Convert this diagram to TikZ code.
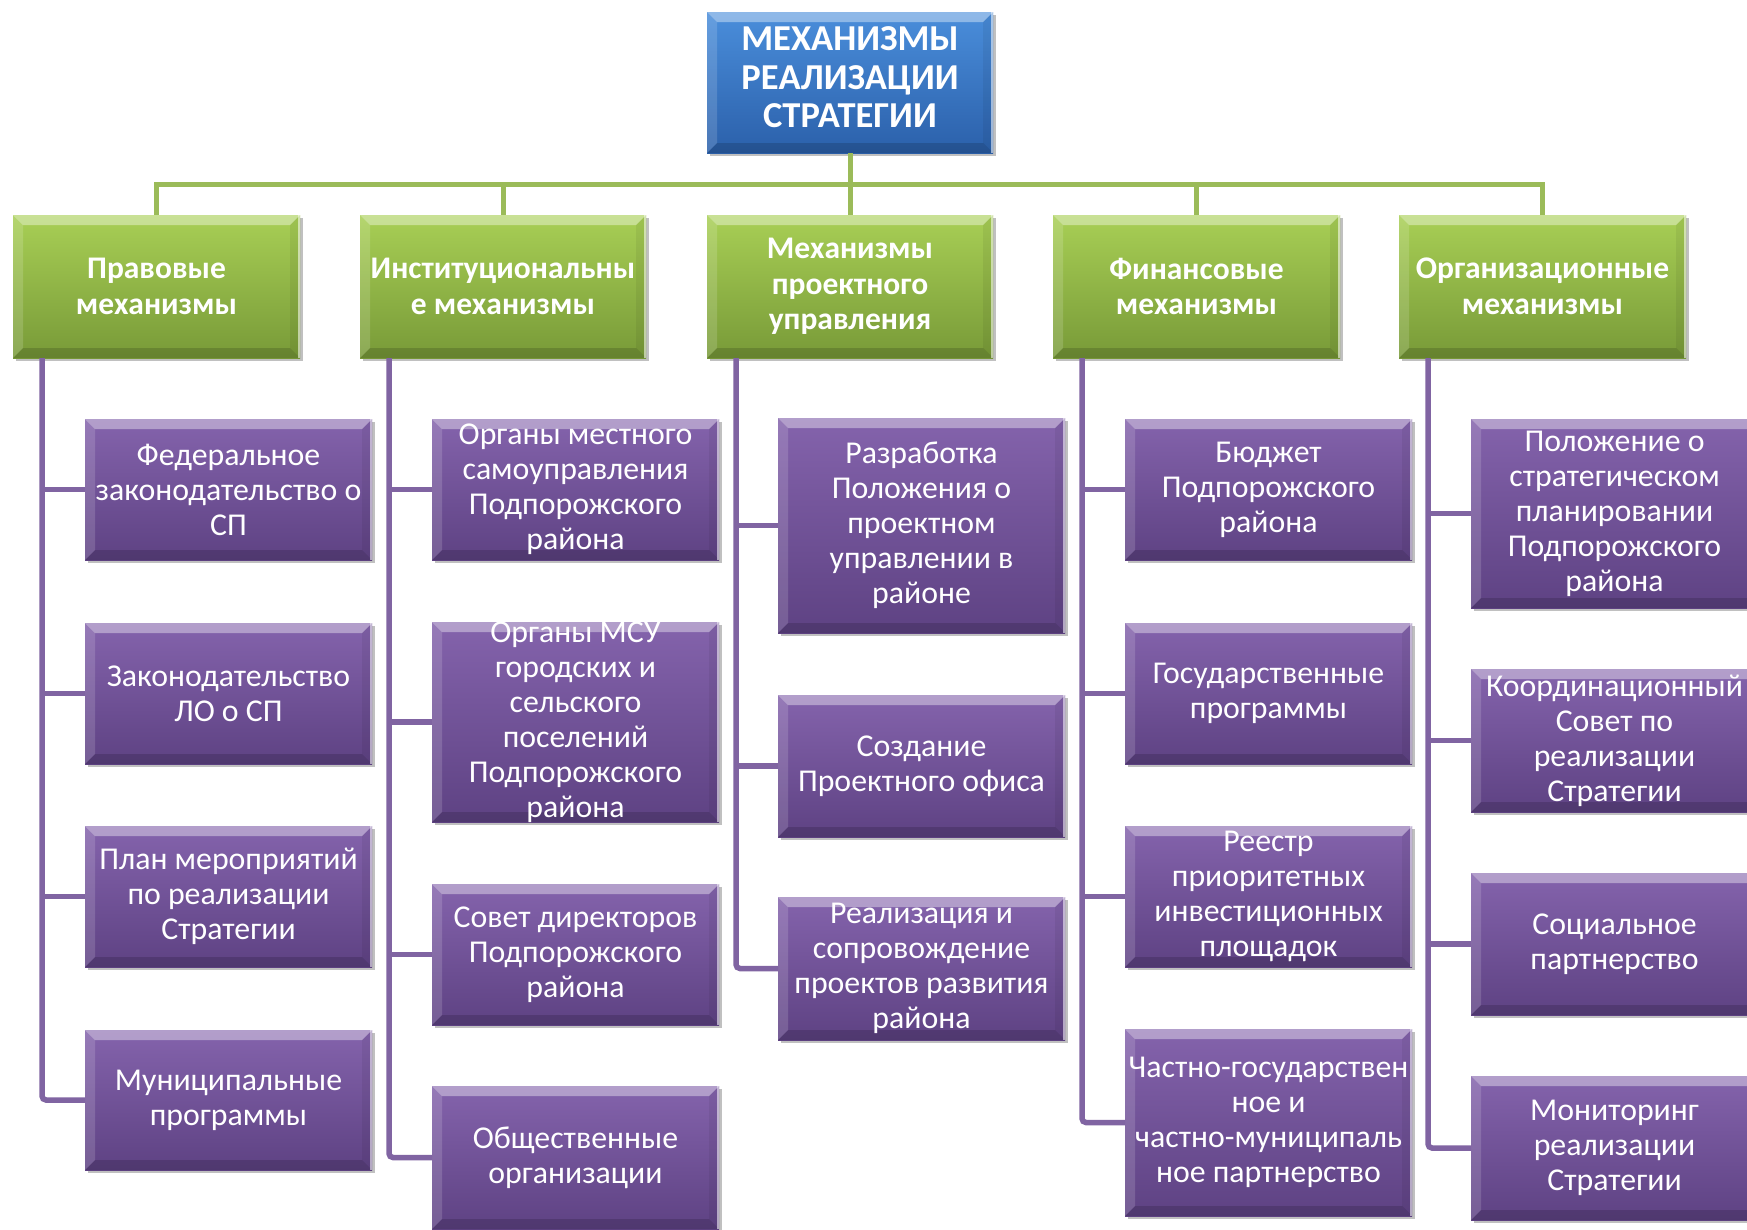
\documentclass[tikz,border=0pt]{standalone}
\usepackage{fontspec}
\setmainfont{Carlito}
\usetikzlibrary{shadows,calc}
\definecolor{bluetop}{HTML}{4A8EDB}
\definecolor{bluebot}{HTML}{2B60AA}
\definecolor{greentop}{HTML}{A8CF55}
\definecolor{greenbot}{HTML}{789A38}
\definecolor{purptop}{HTML}{8463AC}
\definecolor{purpbot}{HTML}{5E4283}
\definecolor{gline}{HTML}{9BBB59}
\definecolor{pline}{HTML}{8064A2}
\tikzset{
  basebox/.style={inner sep=0pt, outer sep=0pt, draw=none,
    drop shadow={shadow xshift=2.5pt, shadow yshift=-3pt, opacity=0.35, fill=black!70}},
  bluebox/.style={basebox, top color=bluetop, bottom color=bluebot},
  greenbox/.style={basebox, top color=greentop, bottom color=greenbot},
  purpbox/.style={basebox, top color=purptop, bottom color=purpbot},
  toptxt/.style={text=white, align=center, font=\fontsize{36.5}{38.5}\selectfont\bfseries},
  greentxt/.style={text=white, align=center, font=\fontsize{31.5}{35.5}\selectfont\bfseries},
  purptxt/.style={text=white, align=center, font=\fontsize{31.8}{35}\selectfont},
  gconn/.style={draw=gline, line width=5pt},
  pconn/.style={draw=pline, line width=5.5pt},
}
\newcommand\boxat[8]{% style, text style, name, x1, y1, x2, y2, text
  \node[#1, minimum width={(#6-#4)*1pt}, minimum height={(#7-#5)*1pt}] (#3) at ({(#4+#6)/2},{(#5+#7)/2}) {};
  \fill[white,opacity=.38] (#3.north west) -- (#3.north east) -- ([xshift=-10pt,yshift=-10pt]#3.north east) -- ([xshift=10pt,yshift=-10pt]#3.north west) -- cycle;
  \fill[white,opacity=.15] (#3.north west) -- ([xshift=10pt,yshift=-10pt]#3.north west) -- ([xshift=10pt,yshift=10pt]#3.south west) -- (#3.south west) -- cycle;
  \fill[black,opacity=.15] (#3.south west) -- (#3.south east) -- ([xshift=-10pt,yshift=10pt]#3.south east) -- ([xshift=10pt,yshift=10pt]#3.south west) -- cycle;
  \fill[black,opacity=.06] (#3.north east) -- (#3.south east) -- ([xshift=-10pt,yshift=10pt]#3.south east) -- ([xshift=-10pt,yshift=-10pt]#3.north east) -- cycle;
  \fill[white,opacity=.55] ([xshift=-2pt]#3.north east) rectangle (#3.south east);
  \node[#2] (#3t) at (#3.center) {#8};
}
\begin{document}
\begin{tikzpicture}[x=1pt,y=-1pt]
\clip (0,0) rectangle (1747,1229);
\fill[white] (0,0) rectangle (1747,1229);
% bus
\coordinate (bus) at (0,184);
% top box
\boxat{bluebox}{toptxt,yshift=5pt}{top}{707}{12}{993}{153}{МЕХАНИЗМЫ\\РЕАЛИЗАЦИИ\\СТРАТЕГИИ}
% green boxes
\boxat{greenbox}{greentxt}{g1}{13}{215}{300}{358}{Правовые\\механизмы}
\boxat{greenbox}{greentxt}{g2}{360}{215}{646}{358}{Институциональны\\е механизмы}
\boxat{greenbox}{greentxt}{g3}{707}{215}{993}{358}{Механизмы\\проектного\\управления}
\boxat{greenbox}{greentxt}{g4}{1053}{215}{1340}{358}{Финансовые\\механизмы}
\boxat{greenbox}{greentxt}{g5}{1399}{215}{1686}{358}{Организационные\\механизмы}
% green connectors
\draw[gconn] (top.south) -- (top.south |- bus);
\draw[gconn, line cap=rect] (g1.north |- bus) -- (g5.north |- bus);
\foreach \g in {g1,g2,g3,g4,g5} { \draw[gconn] (\g.north |- bus) -- (\g.north); }
% purple column 1
\boxat{purpbox}{purptxt}{p11}{85}{419}{372}{560}{Федеральное\\законодательство о\\СП}
\boxat{purpbox}{purptxt}{p12}{85}{623}{372}{764}{Законодательство\\ЛО о СП}
\boxat{purpbox}{purptxt}{p13}{85}{826}{372}{967}{План мероприятий\\по реализации\\Стратегии}
\boxat{purpbox}{purptxt}{p14}{85}{1030}{372}{1170}{Муниципальные\\программы}
% column 2
\boxat{purpbox}{purptxt}{p21}{432}{419}{719}{560}{Органы местного\\самоуправления\\Подпорожского\\района}
\boxat{purpbox}{purptxt}{p22}{432}{622}{719}{822}{Органы МСУ\\городских и\\сельского\\поселений\\Подпорожского\\района}
\boxat{purpbox}{purptxt}{p23}{432}{884}{719}{1025}{Совет директоров\\Подпорожского\\района}
\boxat{purpbox}{purptxt}{p24}{432}{1086}{719}{1229}{Общественные\\организации}
% column 3
\boxat{purpbox}{purptxt}{p31}{778}{418}{1065}{633}{Разработка\\Положения о\\проектном\\управлении в\\районе}
\boxat{purpbox}{purptxt}{p32}{778}{695}{1065}{837}{Создание\\Проектного офиса}
\boxat{purpbox}{purptxt}{p33}{778}{897}{1065}{1040}{Реализация и\\сопровождение\\проектов развития\\района}
% column 4
\boxat{purpbox}{purptxt}{p41}{1125}{419}{1412}{560}{Бюджет\\Подпорожского\\района}
\boxat{purpbox}{purptxt}{p42}{1125}{623}{1412}{764}{Государственные\\программы}
\boxat{purpbox}{purptxt}{p43}{1125}{826}{1412}{967}{Реестр\\приоритетных\\инвестиционных\\площадок}
\boxat{purpbox}{purptxt}{p44}{1125}{1029}{1412}{1216}{Частно-государствен\\ное и\\частно-муниципаль\\ное партнерство}
% column 5
\boxat{purpbox}{purptxt}{p51}{1471}{419}{1758}{608}{Положение о\\стратегическом\\планировании\\Подпорожского\\района}
\boxat{purpbox}{purptxt}{p52}{1471}{669}{1758}{812}{Координационный\\Совет по\\реализации\\Стратегии}
\boxat{purpbox}{purptxt}{p53}{1471}{873}{1758}{1015}{Социальное\\партнерство}
\boxat{purpbox}{purptxt}{p54}{1471}{1076}{1758}{1220}{Мониторинг\\реализации\\Стратегии}
% purple trunks
\coordinate (v1) at ([xshift=29pt]g1.south west);
\coordinate (v2) at ([xshift=29pt]g2.south west);
\coordinate (v3) at ([xshift=29pt]g3.south west);
\coordinate (v4) at ([xshift=29pt]g4.south west);
\coordinate (v5) at ([xshift=29pt]g5.south west);
\draw[pconn, rounded corners=4pt] (v1) |- (p14.west);
\foreach \b in {p11,p12,p13} { \draw[pconn] (v1 |- \b.west) -- (\b.west); }
\draw[pconn, rounded corners=4pt] (v2) |- (p24.west);
\foreach \b in {p21,p22,p23} { \draw[pconn] (v2 |- \b.west) -- (\b.west); }
\draw[pconn, rounded corners=4pt] (v3) |- (p33.west);
\foreach \b in {p31,p32} { \draw[pconn] (v3 |- \b.west) -- (\b.west); }
\draw[pconn, rounded corners=4pt] (v4) |- (p44.west);
\foreach \b in {p41,p42,p43} { \draw[pconn] (v4 |- \b.west) -- (\b.west); }
\draw[pconn, rounded corners=4pt] (v5) |- (p54.west);
\foreach \b in {p51,p52,p53} { \draw[pconn] (v5 |- \b.west) -- (\b.west); }
\end{tikzpicture}
\end{document}
